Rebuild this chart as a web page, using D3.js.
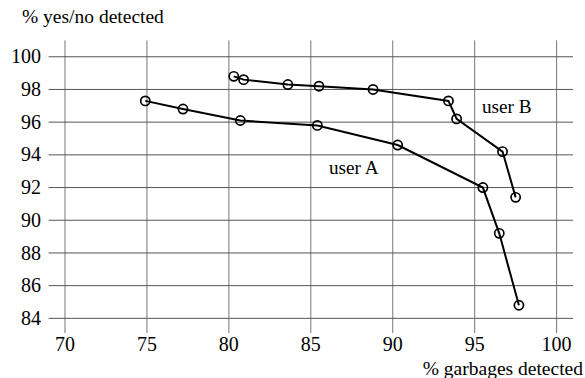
<!DOCTYPE html>
<html>
<head>
<meta charset="utf-8">
<script src="https://cdn.jsdelivr.net/npm/d3@7"></script>
<style>
  body { margin: 0; background: #fff; }
</style>
</head>
<body>
<svg id="chart" width="585" height="378"></svg>
<script>
// Chart size
var w = 585;
var h = 378;

// Data
var userAX = [74.9, 77.2, 80.7, 85.4, 90.3, 95.5, 96.5, 97.7];
var userAY = [97.3, 96.8, 96.1, 95.8, 94.6, 92.0, 89.2, 84.8];
var userBX = [80.3, 80.9, 83.6, 85.5, 88.8, 93.4, 93.9, 96.7, 97.5];
var userBY = [98.8, 98.6, 98.3, 98.2, 98.0, 97.3, 96.2, 94.2, 91.4];
var xTicks = [70, 75, 80, 85, 90, 95, 100];
var yTicks = [84, 86, 88, 90, 92, 94, 96, 98, 100];
var seriesLabels = ["user A", "user B"];

var svg = d3.select("#chart");

// Scales
var xScale = d3.scaleLinear()
    .domain([69, 101])
    .range([48.6, 573]);

var yScale = d3.scaleLinear()
    .domain([83, 101])
    .range([334.7, 40.4]);

// Grid lines
svg.selectAll(".vgrid")
    .data(xTicks)
    .enter()
    .append("line")
    .attr("x1", function (d) { return xScale(d); })
    .attr("x2", function (d) { return xScale(d); })
    .attr("y1", yScale(101))
    .attr("y2", yScale(83.1))
    .attr("stroke", "#777")
    .attr("stroke-width", 1);

svg.selectAll(".hgrid")
    .data(yTicks)
    .enter()
    .append("line")
    .attr("x1", xScale(69))
    .attr("x2", xScale(101))
    .attr("y1", function (d) { return yScale(d); })
    .attr("y2", function (d) { return yScale(d); })
    .attr("stroke", "#555")
    .attr("stroke-width", 1);

// All text: [text, x, y, anchor, size]
var labels = [];
xTicks.forEach(function (d) { labels.push([String(d), xScale(d), 351, "middle", 20]); });
yTicks.forEach(function (d) { labels.push([String(d), 41, yScale(d) + 6.6, "end", 20]); });
labels.push(["% yes/no detected", 22, 23, "start", 19.5]);
labels.push(["% garbages detected", 583, 375, "end", 19.5]);
labels.push([seriesLabels[0], 329, 174, "start", 19.2]);
labels.push([seriesLabels[1], 482, 113.3, "start", 19.2]);

svg.selectAll("text")
    .data(labels)
    .enter()
    .append("text")
    .attr("x", function (d) { return d[1]; })
    .attr("y", function (d) { return d[2]; })
    .attr("text-anchor", function (d) { return d[3]; })
    .attr("font-size", function (d) { return d[4]; })
    .style("font-family", "serif")
    .text(function (d) { return d[0]; });

// Series
var line = d3.line()
    .x(function (d) { return xScale(d[0]); })
    .y(function (d) { return yScale(d[1]); });

var series = [d3.zip(userAX, userAY), d3.zip(userBX, userBY)];

series.forEach(function (pts) {
    svg.append("path")
        .datum(pts)
        .attr("d", line)
        .attr("fill", "none")
        .attr("stroke", "#000")
        .attr("stroke-width", 2);

    svg.selectAll(null)
        .data(pts)
        .enter()
        .append("circle")
        .attr("cx", function (d) { return xScale(d[0]); })
        .attr("cy", function (d) { return yScale(d[1]); })
        .attr("r", 4.6)
        .attr("fill", "none")
        .attr("stroke", "#000")
        .attr("stroke-width", 1.7);
});
</script>
</body>
</html>
